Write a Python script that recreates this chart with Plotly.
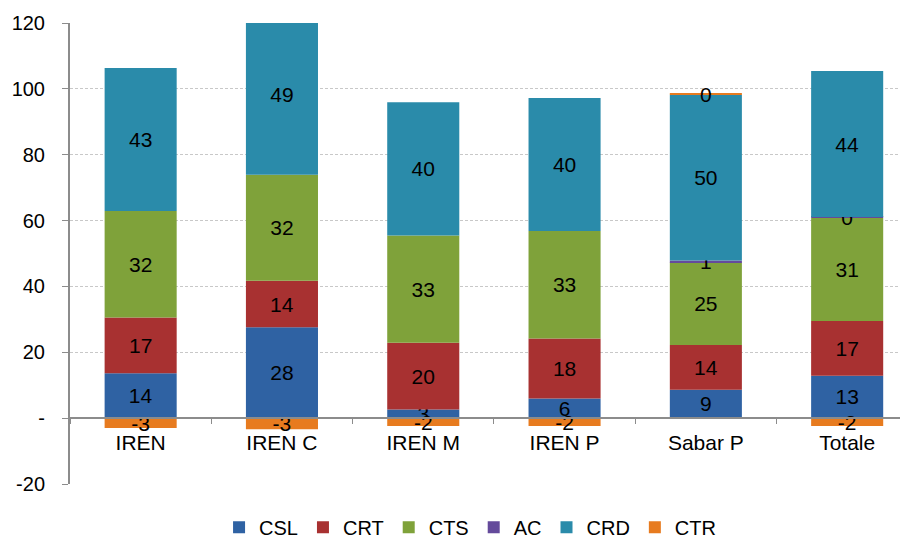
import plotly.graph_objects as go

# categories and series values
categories = ['IREN', 'IREN C', 'IREN M', 'IREN P', 'Sabar P', 'Totale']

csl = [13.6, 27.6, 2.6, 6.0, 8.6, 12.9]
crt = [17.0, 14.1, 20.3, 18.2, 13.6, 16.6]
cts = [32.3, 32.2, 32.6, 32.6, 25.1, 31.3]
ac = [None, None, None, None, 0.6, 0.3]
crd = [43.4, 49.0, 40.4, 40.4, 50.3, 44.3]
ctr = [-3.0, -3.4, -2.4, -2.4, 0.4, -2.4]

ytick_vals = [-20, 0, 20, 40, 60, 80, 100, 120]
ytick_text = ['-20', '-', '20', '40', '60', '80', '100', '120']

series = [
    ('CSL', csl, '#2F62A3'),
    ('CRT', crt, '#A83131'),
    ('CTS', cts, '#7FA23A'),
    ('AC', ac, '#644A9B'),
    ('CRD', crd, '#2A8BAA'),
    ('CTR', ctr, '#E77B1F'),
]

fig = go.Figure()
for name, vals, color in series:
    fig.add_trace(go.Bar(
        x=categories, y=vals, name=name,
        marker=dict(color=color, line=dict(width=0)),
        texttemplate='%{y:.0f}',
        textposition='inside',
        insidetextanchor='middle',
        constraintext='none',
        textangle=0,
        textfont=dict(size=21, color='black'),
        width=0.51,
    ))

font_family = 'Liberation Sans, Arial, sans-serif'

# the page body adds an 8px offset, so margins are shifted by that amount
fig.update_layout(
    barmode='relative',
    width=908, height=541,
    margin=dict(l=62, r=2, t=15, b=65),
    plot_bgcolor='white', paper_bgcolor='white',
    font=dict(family=font_family, size=20, color='black'),
    showlegend=True,
    legend=dict(orientation='h', x=0.474, xanchor='center',
                yref='container', y=0.04, yanchor='middle',
                traceorder='normal', font=dict(size=20), itemwidth=30),
    xaxis=dict(
        range=[-0.5, 5.473],
        automargin=False,
        showgrid=False,
        showline=True, linecolor='#8C8C8C', linewidth=2,
        anchor='free', position=20 / 140,
        ticks='outside', tickson='boundaries', ticklen=5, tickcolor='#8C8C8C',
        ticklabelstandoff=6,
        tickfont=dict(size=21),
    ),
    yaxis=dict(
        range=[-20, 120],
        automargin=False,
        tickvals=ytick_vals, ticktext=ytick_text,
        showgrid=True, gridcolor='#C8C8C8', griddash='3px,2px', gridwidth=1,
        zeroline=False,
        showline=True, linecolor='#8C8C8C', linewidth=2,
        ticks='outside', ticklen=6, tickcolor='#8C8C8C',
        ticklabelstandoff=13,
        tickfont=dict(size=20),
    ),
)

fig.write_html('out.html')
